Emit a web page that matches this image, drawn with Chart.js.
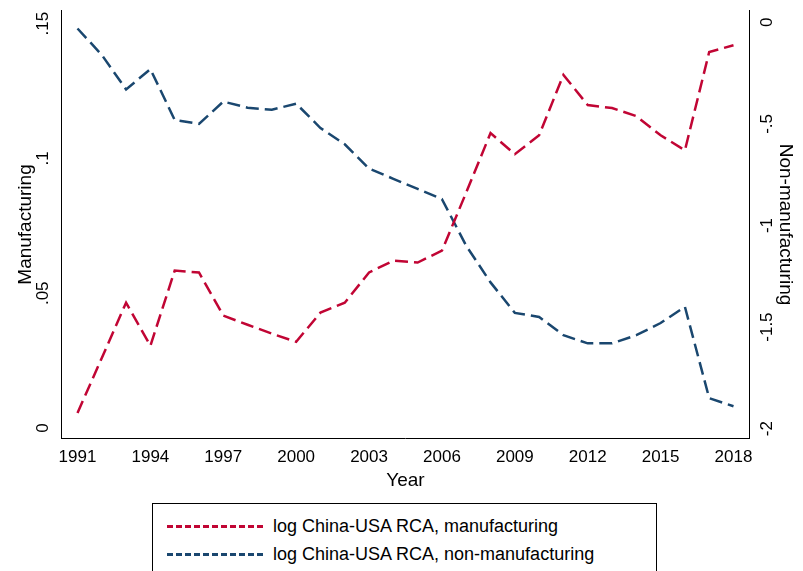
<!DOCTYPE html>
<html><head><meta charset="utf-8">
<script src="https://cdn.jsdelivr.net/npm/chart.js@4/dist/chart.umd.min.js"></script>
<style>
body{margin:0;background:#fff;font-family:Arial,"Liberation Sans",sans-serif}
#wrap{position:relative;width:803px;height:494px}
#legend{position:absolute;left:152px;top:503px;width:505px;height:68px;border:1px solid #000;border-bottom:none;box-sizing:border-box;font-size:18px}
.row{position:absolute;left:14px;height:24px;display:flex;align-items:center}
.sw{width:96px;height:0;border-top:3px dashed;margin-right:10px}
</style></head><body>
<div id="wrap"><canvas id="c"></canvas></div>
<div id="legend">
<div class="row" style="top:10px"><div class="sw" style="border-color:#c10534"></div>log China-USA RCA, manufacturing</div>
<div class="row" style="top:38px"><div class="sw" style="border-color:#1a476f"></div>log China-USA RCA, non-manufacturing</div>
</div>
<script>
const years = [1991,1992,1993,1994,1995,1996,1997,1998,1999,2000,2001,2002,2003,2004,2005,2006,2007,2008,2009,2010,2011,2012,2013,2014,2015,2016,2017,2018];
const manuf = [0.0056,0.026,0.0465,0.0305,0.0584,0.0577,0.0417,0.0383,0.035,0.032,0.0428,0.0465,0.0577,0.0621,0.0614,0.0658,0.0874,0.1094,0.1016,0.1086,0.131,0.1198,0.1187,0.1157,0.1086,0.103,0.1395,0.142];
const nonManuf = [-0.03,-0.16,-0.33,-0.23,-0.48,-0.50,-0.39,-0.42,-0.43,-0.40,-0.52,-0.60,-0.72,-0.77,-0.82,-0.87,-1.10,-1.28,-1.43,-1.45,-1.54,-1.58,-1.58,-1.54,-1.48,-1.40,-1.85,-1.89];
const xTicks = [1991,1994,1997,2000,2003,2006,2009,2012,2015,2018];
const leftTicks = [0,0.05,0.1,0.15], leftLabels = ["0",".05",".1",".15"];
const rightTicks = [0,-0.5,-1,-1.5,-2], rightLabels = ["0","-.5","-1","-1.5","-2"];

const font = {family:"Arial, 'Liberation Sans'", size:17};
const rotLabels = {
  id:"rot",
  afterDraw(ch){
    const c = ch.ctx;
    c.save(); c.fillStyle="#000"; c.font="17px Arial, 'Liberation Sans'"; c.textAlign="center";
    const L = ch.scales.y, R = ch.scales.y2;
    leftTicks.forEach((v,i)=>{const y=L.getPixelForValue(v);c.save();c.translate(L.right-10,y);c.rotate(-Math.PI/2);c.textBaseline="bottom";c.fillText(leftLabels[i],0,0);c.restore();});
    rightTicks.forEach((v,i)=>{const y=R.getPixelForValue(v);c.save();c.translate(R.left+10,y);c.rotate(-Math.PI/2);c.textBaseline="top";c.fillText(rightLabels[i],0,0);c.restore();});
    c.restore();
  }
};
new Chart(document.getElementById("c"),{
  type:"line",
  data:{datasets:[
    {data:years.map((x,i)=>({x,y:manuf[i]})),borderColor:"#c10534",borderWidth:2.5,borderDash:[13,6],pointRadius:0,yAxisID:"y",tension:0},
    {data:years.map((x,i)=>({x,y:nonManuf[i]})),borderColor:"#1a476f",borderWidth:2.5,borderDash:[13,6],pointRadius:0,yAxisID:"y2",tension:0}
  ]},
  options:{responsive:true,maintainAspectRatio:false,animation:false,
    layout:{padding:{top:8,right:6,left:14,bottom:2}},
    plugins:{legend:{display:false},tooltip:{enabled:false}},
    scales:{
      x:{type:"linear",min:1990.35,max:2018.65,
        afterBuildTicks:a=>{a.ticks=xTicks.map(v=>({value:v}));},
        ticks:{color:"#000",font,maxRotation:0,padding:2,callback:v=>String(v)},
        grid:{display:false,drawTicks:true,tickLength:6,color:"#000"},border:{color:"#000"},
        title:{display:true,text:"Year",color:"#000",font:{...font,size:19},padding:{top:0,bottom:0}}},
      y:{position:"left",min:-0.004,max:0.155,
        afterBuildTicks:a=>{a.ticks=leftTicks.map(v=>({value:v}));},
        ticks:{color:"rgba(0,0,0,0)",font,padding:0,callback:v=>"00"},
        grid:{display:false,tickLength:6,color:"#000"},border:{color:"#000"},
        title:{display:true,text:"Manufacturing",color:"#000",font:{...font,size:19},padding:0}},
      y2:{position:"right",min:-2.05,max:0.06,
        afterBuildTicks:a=>{a.ticks=rightTicks.map(v=>({value:v}));},
        ticks:{color:"rgba(0,0,0,0)",font,padding:0,callback:v=>"00"},
        grid:{display:false,tickLength:6,color:"#000"},border:{color:"#000"},
        title:{display:true,text:"Non-manufacturing",color:"#000",font:{...font,size:19},padding:0}}
    }},
  plugins:[rotLabels]
});
</script></body></html>
